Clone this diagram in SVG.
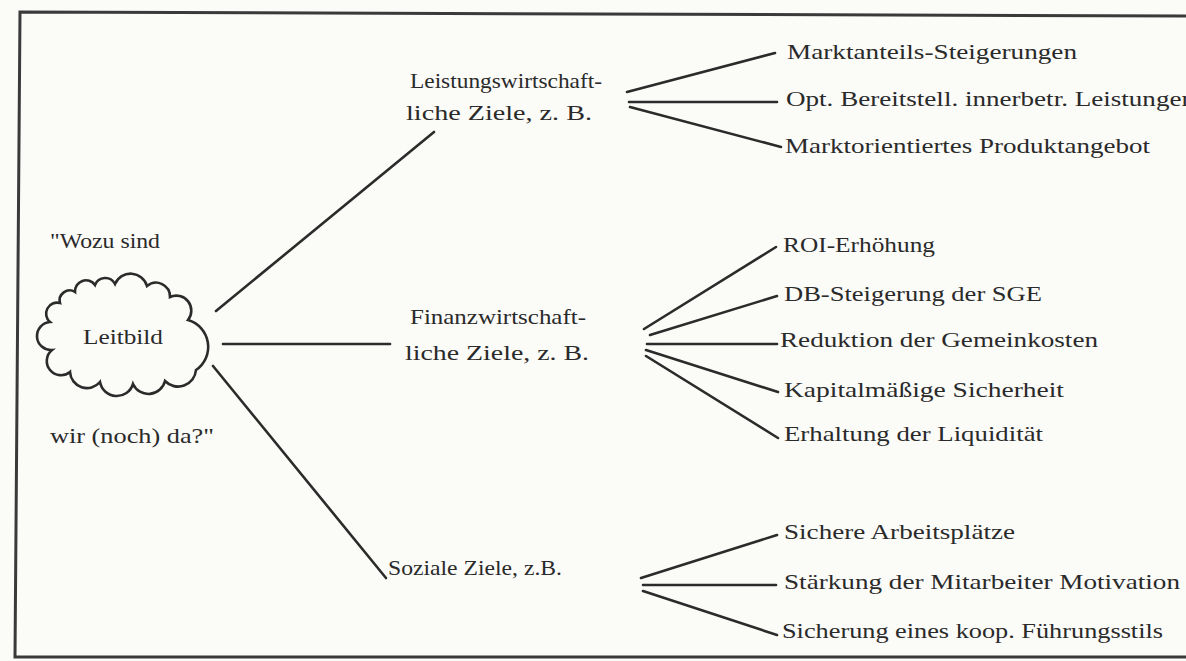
<svg xmlns="http://www.w3.org/2000/svg" width="1186" height="661" viewBox="0 0 1186 661">
<style>
.t{font-family:"Liberation Serif","DejaVu Serif",serif;font-size:21px;fill:#2a2a2a}
.c{stroke:#2b2b2b;stroke-width:2.6;fill:none;stroke-linecap:round}
.f{stroke:#3a3a3a;stroke-width:3;fill:none}
</style>
<rect width="1186" height="661" fill="#fbfbf8"/>
<polyline class="f" points="1186,16 20,12 15,657 1186,657"/>
<g id="leitbild">
<text class="t" x="50" y="248" textLength="110" lengthAdjust="spacingAndGlyphs">"Wozu sind</text>
<path class="c" d="M115,284 A17,17 0 0 1 147,286 A14,14 0 0 1 170,297 A15,15 0 0 1 188,320 A28,28 0 0 1 196,370 A18,18 0 0 1 165,381 A17,17 0 0 1 133,384 A17,17 0 0 1 100,382 A17,17 0 0 1 70,372 A14,14 0 0 1 52,350 A14,14 0 0 1 50,322 A11,11 0 0 1 60,303 A10,10 0 0 1 75,292 A11,11 0 0 1 95,285 A11,11 0 0 1 115,284 Z"/>
<text class="t" x="83" y="344" textLength="80" lengthAdjust="spacingAndGlyphs">Leitbild</text>
<text class="t" x="50" y="443" textLength="164" lengthAdjust="spacingAndGlyphs">wir (noch) da?"</text>
</g>
<g id="leistung">
<text class="t" x="410" y="88" textLength="192" lengthAdjust="spacingAndGlyphs">Leistungswirtschaft-</text>
<text class="t" x="406" y="120" textLength="186" lengthAdjust="spacingAndGlyphs">liche Ziele, z. B.</text>
</g>
<g id="finanz">
<text class="t" x="410" y="324" textLength="176" lengthAdjust="spacingAndGlyphs">Finanzwirtschaft-</text>
<text class="t" x="405" y="360" textLength="184" lengthAdjust="spacingAndGlyphs">liche Ziele, z. B.</text>
</g>
<g id="sozial">
<text class="t" x="388" y="575" textLength="174" lengthAdjust="spacingAndGlyphs">Soziale Ziele, z.B.</text>
</g>
<g id="l1"><text class="t" x="787" y="59" textLength="290" lengthAdjust="spacingAndGlyphs">Marktanteils-Steigerungen</text></g>
<g id="l2"><text class="t" x="786" y="106" textLength="409" lengthAdjust="spacingAndGlyphs">Opt. Bereitstell. innerbetr. Leistungen</text></g>
<g id="l3"><text class="t" x="785" y="153" textLength="365" lengthAdjust="spacingAndGlyphs">Marktorientiertes Produktangebot</text></g>
<g id="f1"><text class="t" x="783" y="252" textLength="152" lengthAdjust="spacingAndGlyphs">ROI-Erhöhung</text></g>
<g id="f2"><text class="t" x="784" y="301" textLength="258" lengthAdjust="spacingAndGlyphs">DB-Steigerung der SGE</text></g>
<g id="f3"><text class="t" x="780" y="347" textLength="318" lengthAdjust="spacingAndGlyphs">Reduktion der Gemeinkosten</text></g>
<g id="f4"><text class="t" x="784" y="397" textLength="280" lengthAdjust="spacingAndGlyphs">Kapitalmäßige Sicherheit</text></g>
<g id="f5"><text class="t" x="784" y="441" textLength="259" lengthAdjust="spacingAndGlyphs">Erhaltung der Liquidität</text></g>
<g id="s1"><text class="t" x="784" y="539" textLength="231" lengthAdjust="spacingAndGlyphs">Sichere Arbeitsplätze</text></g>
<g id="s2"><text class="t" x="784" y="589" textLength="396" lengthAdjust="spacingAndGlyphs">Stärkung der Mitarbeiter  Motivation</text></g>
<g id="s3"><text class="t" x="782" y="638" textLength="381" lengthAdjust="spacingAndGlyphs">Sicherung eines koop. Führungsstils</text></g>
<g id="connectors">
<line class="c" x1="216" y1="311" x2="434" y2="132"/>
<line class="c" x1="223" y1="344" x2="390" y2="344"/>
<line class="c" x1="213" y1="366" x2="386" y2="578"/>
<line class="c" x1="627" y1="92" x2="775" y2="53"/>
<line class="c" x1="629" y1="102" x2="777" y2="102"/>
<line class="c" x1="630" y1="107" x2="781" y2="147"/>
<line class="c" x1="644" y1="329" x2="776" y2="247"/>
<line class="c" x1="650" y1="335" x2="777" y2="296"/>
<line class="c" x1="647" y1="344" x2="777" y2="344"/>
<line class="c" x1="646" y1="350" x2="778" y2="392"/>
<line class="c" x1="646" y1="356" x2="778" y2="438"/>
<line class="c" x1="641" y1="578" x2="777" y2="535"/>
<line class="c" x1="643" y1="585" x2="776" y2="585"/>
<line class="c" x1="643" y1="591" x2="777" y2="635"/>
</g>
</svg>
